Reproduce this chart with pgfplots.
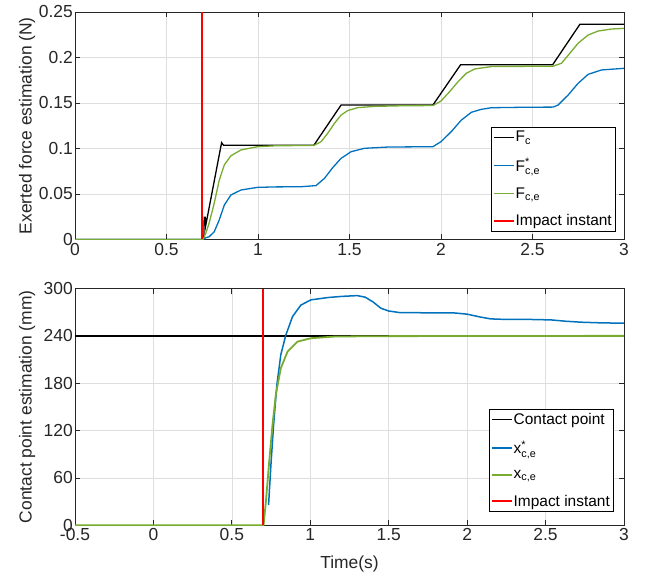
\documentclass[border=0pt]{standalone}
\usepackage{amsmath}
\usepackage{fontspec}
\setmainfont{Liberation Sans}
\usepackage{pgfplots}
\pgfplotsset{compat=1.18}

\definecolor{mblue}{rgb}{0,0.447,0.741}
\definecolor{mgreen}{rgb}{0.466,0.674,0.188}
\definecolor{axgray}{rgb}{0.15,0.15,0.15}

\pgfplotsset{
  mstyle/.style={
    scale only axis, width=549bp,
    grid=major, grid style={black!13, line width=0.6bp},
    axis line style={axgray, line width=0.8bp},
    tick align=inside, major tick length=5bp,
    tick style={axgray, line width=0.8bp},
    tick label style={font=\fontsize{17.5}{20}\selectfont, text=axgray},
    yticklabel style={inner xsep=2bp},
    label style={font=\fontsize{17.5}{20}\selectfont, text=axgray},
    ylabel style={at={(axis description cs:-0.0874,0.5)}, anchor=center},
    legend cell align=left,
    legend style={font=\fontsize{15.5}{18}\selectfont,
                  fill=white, inner xsep=2bp, inner ysep=3bp,
                  row sep=13bp, nodes={inner sep=1bp}},
  },
  % legend sample: a short line in the given colour and width
  limg/.style 2 args={legend image code/.code={\draw[#1, line width=#2] (0bp,0bp) -- (20bp,0bp);}},
}

\begin{document}
\begin{tikzpicture}
\useasboundingbox (0,0) rectangle (655bp,575bp);

%% top: exerted force
\begin{axis}[mstyle,
  at={(75bp,335.5bp)}, anchor=south west, height=227.5bp,
  xmin=0, xmax=3, ymin=0, ymax=0.25,
  xtick={0,0.5,1,1.5,2,2.5,3}, xticklabels={0,0.5,1,1.5,2,2.5,3},
  ytick={0,0.05,0.1,0.15,0.2,0.25}, yticklabels={0,0.05,0.1,0.15,0.2,0.25},
  ylabel={Exerted force estimation (N)},
  legend style={at={(axis description cs:0.9836,0.035)}, anchor=south east},
]
\addplot[black, line width=1.3bp, limg={black}{1.3bp}] coordinates {
  (0,0)(0.704,0)(0.706,0.0244)(0.712,0.0244)(0.714,0.015)(0.801,0.1064)(0.812,0.1035)
  (1.305,0.1035)(1.454,0.1478)(1.956,0.1478)(2.107,0.1920)(2.610,0.1920)
  (2.759,0.2365)(3,0.2365)
};
\addlegendentry{F$_{\text{c}}$}
\addplot[mblue, line width=1.3bp, limg={mblue}{1.3bp}] coordinates {
  (0,0)(0.70,0)(0.715,0.002)(0.733,0.003)(0.761,0.0086)(0.788,0.0214)(0.816,0.0379)
  (0.852,0.0489)(0.907,0.0544)(0.998,0.0573)(1.10,0.0578)(1.236,0.058)
  (1.317,0.0592)(1.363,0.0672)(1.408,0.0789)(1.454,0.0892)(1.509,0.0965)
  (1.582,0.1002)(1.709,0.1016)(1.956,0.102)(2.0,0.1075)(2.056,0.1185)
  (2.11,0.131)(2.166,0.1398)(2.22,0.143)(2.275,0.1448)(2.45,0.1453)(2.613,0.1455)
  (2.64,0.1478)(2.695,0.1588)(2.749,0.1716)(2.804,0.1815)(2.877,0.1863)(3.0,0.1881)
};
\addlegendentry{F$^{\text{*}}_{\text{c,e}}$}
\addplot[mgreen, line width=1.3bp, limg={mgreen}{1.3bp}] coordinates {
  (0,0)(0.70,0)(0.715,0.007)(0.733,0.018)(0.761,0.040)(0.788,0.065)(0.816,0.082)
  (0.852,0.092)(0.907,0.0984)(0.998,0.102)(1.107,0.1031)(1.305,0.1033)
  (1.345,0.1075)(1.381,0.1167)(1.418,0.1277)(1.454,0.1368)(1.49,0.1416)
  (1.545,0.1449)(1.637,0.1463)(1.80,0.147)(1.956,0.1472)
  (2.0,0.1522)(2.047,0.1624)(2.093,0.1734)(2.138,0.1826)(2.184,0.1874)
  (2.275,0.19)(2.613,0.1905)(2.658,0.1936)(2.704,0.2046)(2.749,0.2156)
  (2.804,0.2247)(2.859,0.2291)(2.932,0.2313)(3.0,0.232)
};
\addlegendentry{F$_{\text{c,e}}$}
\addplot[red, line width=1.4bp, limg={red}{1.4bp}] coordinates {(0.693,0)(0.693,0.25)};
\addlegendentry{Impact instant}
\end{axis}

%% bottom: contact point
\begin{axis}[mstyle,
  at={(75bp,49.7bp)}, anchor=south west, height=236.8bp,
  xmin=-0.5, xmax=3, ymin=0, ymax=300,
  xtick={-0.5,0,0.5,1,1.5,2,2.5,3}, xticklabels={-0.5,0,0.5,1,1.5,2,2.5,3},
  ytick={0,60,120,180,240,300}, yticklabels={0,60,120,180,240,300},
  xlabel={Time(s)},
  xlabel style={at={(axis description cs:0.5,-0.1634)}, anchor=center},
  ylabel={Contact point estimation (mm)},
  legend style={at={(axis description cs:0.98,0.0574)}, anchor=south east},
]
\addplot[black, line width=1.8bp, limg={black}{1.5bp}] coordinates {(-0.5,240)(3,240)};
\addlegendentry{Contact point}
\addplot[mblue, line width=1.5bp, limg={mblue}{1.5bp}] coordinates {
  (0.734,25.7)(0.749,76.4)(0.766,127)(0.787,178)(0.812,216)(0.844,241)(0.887,264.5)
  (0.94,279)(1.004,285.6)(1.11,288.5)(1.20,290)(1.30,291)(1.35,289)(1.40,283)
  (1.45,275)(1.50,271.5)(1.57,269.5)(1.75,269.2)(1.92,269)(2.0,267.5)(2.08,264)
  (2.15,261.5)(2.22,261)(2.40,260.8)(2.535,260.2)(2.63,258.5)(2.727,257.3)
  (2.85,256.5)(3.0,256)
};
\addlegendentry{x$^{\text{*}}_{\text{c,e}}$}
\addplot[mgreen, line width=1.8bp, limg={mgreen}{1.5bp}] coordinates {
  (-0.5,0)(0.702,0)(0.717,30)(0.738,80.6)(0.759,127)(0.78,165)(0.812,199)
  (0.855,220)(0.919,232.7)(1.004,237)(1.153,239.1)(1.40,239.6)(2.0,239.8)(3.0,240)
};
\addlegendentry{x$_{\text{c,e}}$}
\addplot[red, line width=1.5bp, limg={red}{1.5bp}] coordinates {(0.697,0)(0.697,300)};
\addlegendentry{Impact instant}
\end{axis}
\end{tikzpicture}
\end{document}
